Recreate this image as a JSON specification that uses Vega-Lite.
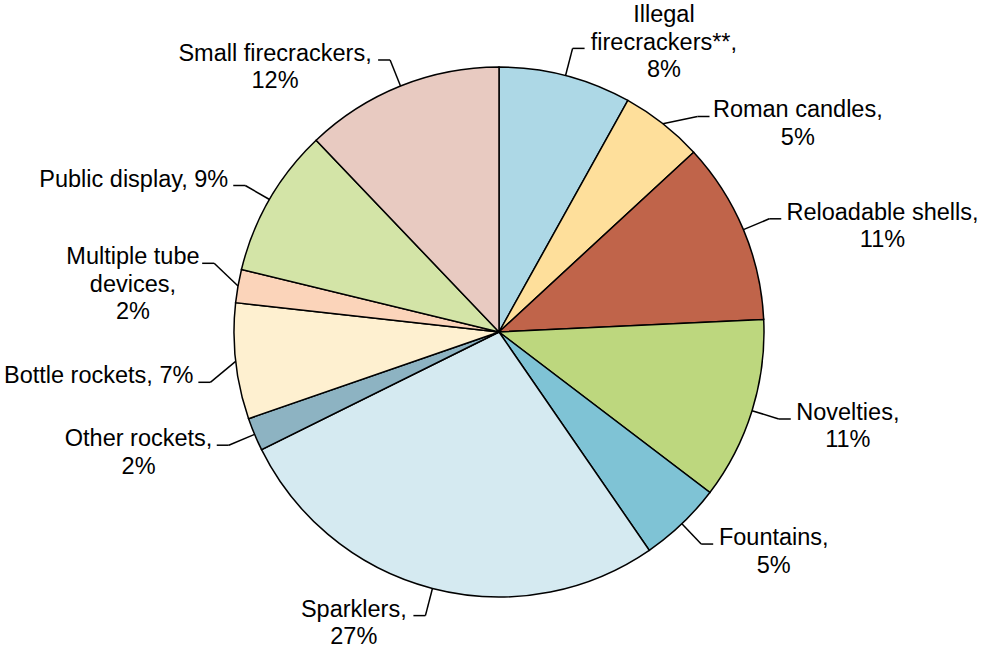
{
  "$schema": "https://vega.github.io/schema/vega-lite/v6.json",
  "width": 981,
  "height": 655,
  "autosize": {"type": "none"},
  "padding": 0,
  "background": "white",
  "config": {"view": {"stroke": null}, "text": {"font": "Liberation Sans", "fontSize": 23.5, "lineHeight": 27.5, "fill": "black"}},
  "data": {
    "values": [
      {"i": 0, "category": "Illegal firecrackers**", "value": 8, "label": ["Illegal", "firecrackers**,", "8%"]},
      {"i": 1, "category": "Roman candles", "value": 5, "label": ["Roman candles,", "5%"]},
      {"i": 2, "category": "Reloadable shells", "value": 11, "label": ["Reloadable shells,", "11%"]},
      {"i": 3, "category": "Novelties", "value": 11, "label": ["Novelties,", "11%"]},
      {"i": 4, "category": "Fountains", "value": 5, "label": ["Fountains,", "5%"]},
      {"i": 5, "category": "Sparklers", "value": 27, "label": ["Sparklers,", "27%"]},
      {"i": 6, "category": "Other rockets", "value": 2, "label": ["Other rockets,", "2%"]},
      {"i": 7, "category": "Bottle rockets", "value": 7, "label": ["Bottle rockets, 7%"]},
      {"i": 8, "category": "Multiple tube devices", "value": 2, "label": ["Multiple tube", "devices,", "2%"]},
      {"i": 9, "category": "Public display", "value": 9, "label": ["Public display, 9%"]},
      {"i": 10, "category": "Small firecrackers", "value": 12, "label": ["Small firecrackers,", "12%"]}
    ]
  },
  "transform": [
    {"joinaggregate": [{"op": "sum", "field": "value", "as": "total"}]},
    {"window": [{"op": "sum", "field": "value", "as": "cum"}], "sort": [{"field": "i", "order": "ascending"}], "frame": [null, 0]},
    {"calculate": "2*PI*(datum.cum - datum.value/2)/datum.total", "as": "a"},
    {"calculate": "265*sin(datum.a)", "as": "ex"},
    {"calculate": "265*cos(datum.a)", "as": "ey"},
    {"calculate": "293*cos(datum.a)", "as": "by0"},
    {"calculate": "sin(datum.a) >= 0 ? 1 : -1", "as": "side"},
    {"calculate": "cos(datum.a) > 0.95", "as": "top"},
    {"calculate": "length(datum.label)", "as": "n"},
    {"calculate": "datum.label[0]", "as": "t0"},
    {"calculate": "datum.n > 1 ? datum.label[1] : ''", "as": "t1"},
    {"calculate": "datum.n > 2 ? datum.label[2] : ''", "as": "t2"},
    {"calculate": "23.5*(0.545*length(datum.t0) - 0.3*length(replace(datum.t0, regexp('[^iljft, ]', 'g'), '')) - 0.19*length(replace(datum.t0, regexp('[^r*]', 'g'), '')) + 0.18*length(replace(datum.t0, regexp('[^A-Zmw%]', 'g'), '')))", "as": "w0"},
    {"calculate": "23.5*(0.545*length(datum.t1) - 0.3*length(replace(datum.t1, regexp('[^iljft, ]', 'g'), '')) - 0.19*length(replace(datum.t1, regexp('[^r*]', 'g'), '')) + 0.18*length(replace(datum.t1, regexp('[^A-Zmw%]', 'g'), '')))", "as": "w1"},
    {"calculate": "23.5*(0.545*length(datum.t2) - 0.3*length(replace(datum.t2, regexp('[^iljft, ]', 'g'), '')) - 0.19*length(replace(datum.t2, regexp('[^r*]', 'g'), '')) + 0.18*length(replace(datum.t2, regexp('[^A-Zmw%]', 'g'), '')))", "as": "w2"},
    {"calculate": "max(datum.w0, datum.w1, datum.w2)", "as": "w"},
    {"calculate": "datum.top ? datum.by0 + (datum.n - 1)*27.5 - 10 - 10.6 : datum.by0 + 7.5", "as": "f0"},
    {"calculate": "datum.f0 - (datum.n - 1)*27.5", "as": "l0"},
    {
      "window": [
        {"op": "lag", "field": "f0", "as": "pf"},
        {"op": "lag", "field": "l0", "as": "pl"},
        {"op": "lag", "field": "side", "as": "ps"},
        {"op": "lag", "field": "top", "as": "pt"},
        {"op": "lead", "field": "f0", "as": "nf"},
        {"op": "lead", "field": "l0", "as": "nl"},
        {"op": "lead", "field": "side", "as": "ns"},
        {"op": "lead", "field": "top", "as": "nt"}
      ],
      "sort": [{"field": "i", "order": "ascending"}]
    },
    {"calculate": "(!datum.top && datum.ps === datum.side) ? (datum.f0 > datum.pf ? max(0, (datum.pt ? 40 : 64) - (datum.l0 - datum.pf)) * (datum.pt ? 1 : 0.5) : -max(0, (datum.pt ? 40 : 64) - (datum.pl - datum.f0)) * (datum.pt ? 1 : 0.5)) : 0", "as": "sp"},
    {"calculate": "(!datum.top && datum.ns === datum.side) ? (datum.f0 > datum.nf ? max(0, (datum.nt ? 40 : 64) - (datum.l0 - datum.nf)) * (datum.nt ? 1 : 0.5) : -max(0, (datum.nt ? 40 : 64) - (datum.nl - datum.f0)) * (datum.nt ? 1 : 0.5)) : 0", "as": "sn"},
    {"calculate": "datum.by0 + datum.sp + datum.sn", "as": "hy"},
    {"calculate": "datum.side * sqrt(max(0, 293*293 - datum.hy*datum.hy))", "as": "bx"},
    {"calculate": "datum.bx + 12*datum.side", "as": "hx"},
    {"calculate": "datum.hx + datum.side*(5 + datum.w/2)", "as": "cx"},
    {"calculate": "datum.hx - 5", "as": "rx"},
    {"calculate": "datum.top ? datum.by0 + (datum.n - 1)*27.5 - 10 : datum.hy + 18", "as": "ty"}
  ],
  "layer": [
    {
      "mark": {"type": "arc", "outerRadius": 265, "stroke": "black", "strokeWidth": 1.5},
      "encoding": {
        "x": {"datum": 0, "type": "quantitative", "scale": {"domain": [-499, 482], "nice": false, "zero": false}, "axis": null},
        "y": {"datum": 0, "type": "quantitative", "scale": {"domain": [-323, 332], "nice": false, "zero": false}, "axis": null},
        "theta": {"field": "value", "type": "quantitative", "stack": true},
        "order": {"field": "i", "type": "quantitative"},
        "color": {
          "field": "category",
          "type": "nominal",
          "scale": {
            "domain": ["Illegal firecrackers**", "Roman candles", "Reloadable shells", "Novelties", "Fountains", "Sparklers", "Other rockets", "Bottle rockets", "Multiple tube devices", "Public display", "Small firecrackers"],
            "range": ["#ADD8E6", "#FEDF9B", "#C0644A", "#BDD77E", "#7FC3D5", "#D5EAF1", "#8DB3C2", "#FEF0D0", "#FBD4BA", "#D3E4A7", "#E8CAC1"]
          },
          "legend": null
        }
      }
    },
    {
      "mark": {"type": "rule", "color": "black", "strokeWidth": 1.5},
      "encoding": {
        "x": {"field": "ex", "type": "quantitative", "scale": {"domain": [-499, 482], "nice": false, "zero": false}, "axis": null},
        "y": {"field": "ey", "type": "quantitative", "scale": {"domain": [-323, 332], "nice": false, "zero": false}, "axis": null},
        "x2": {"field": "bx"},
        "y2": {"field": "hy"}
      }
    },
    {
      "mark": {"type": "rule", "color": "black", "strokeWidth": 1.5},
      "encoding": {
        "x": {"field": "bx", "type": "quantitative", "axis": null},
        "y": {"field": "hy", "type": "quantitative", "axis": null},
        "x2": {"field": "hx"},
        "y2": {"field": "hy"}
      }
    },
    {
      "transform": [{"filter": "datum.n > 1 || datum.side > 0"}],
      "mark": {"type": "text", "align": "center", "baseline": "top"},
      "encoding": {
        "x": {"field": "cx", "type": "quantitative", "axis": null},
        "y": {"field": "ty", "type": "quantitative", "axis": null},
        "text": {"field": "label"}
      }
    },
    {
      "transform": [{"filter": "datum.n == 1 && datum.side < 0"}],
      "mark": {"type": "text", "align": "right", "baseline": "top"},
      "encoding": {
        "x": {"field": "rx", "type": "quantitative", "axis": null},
        "y": {"field": "ty", "type": "quantitative", "axis": null},
        "text": {"field": "label"}
      }
    }
  ]
}
